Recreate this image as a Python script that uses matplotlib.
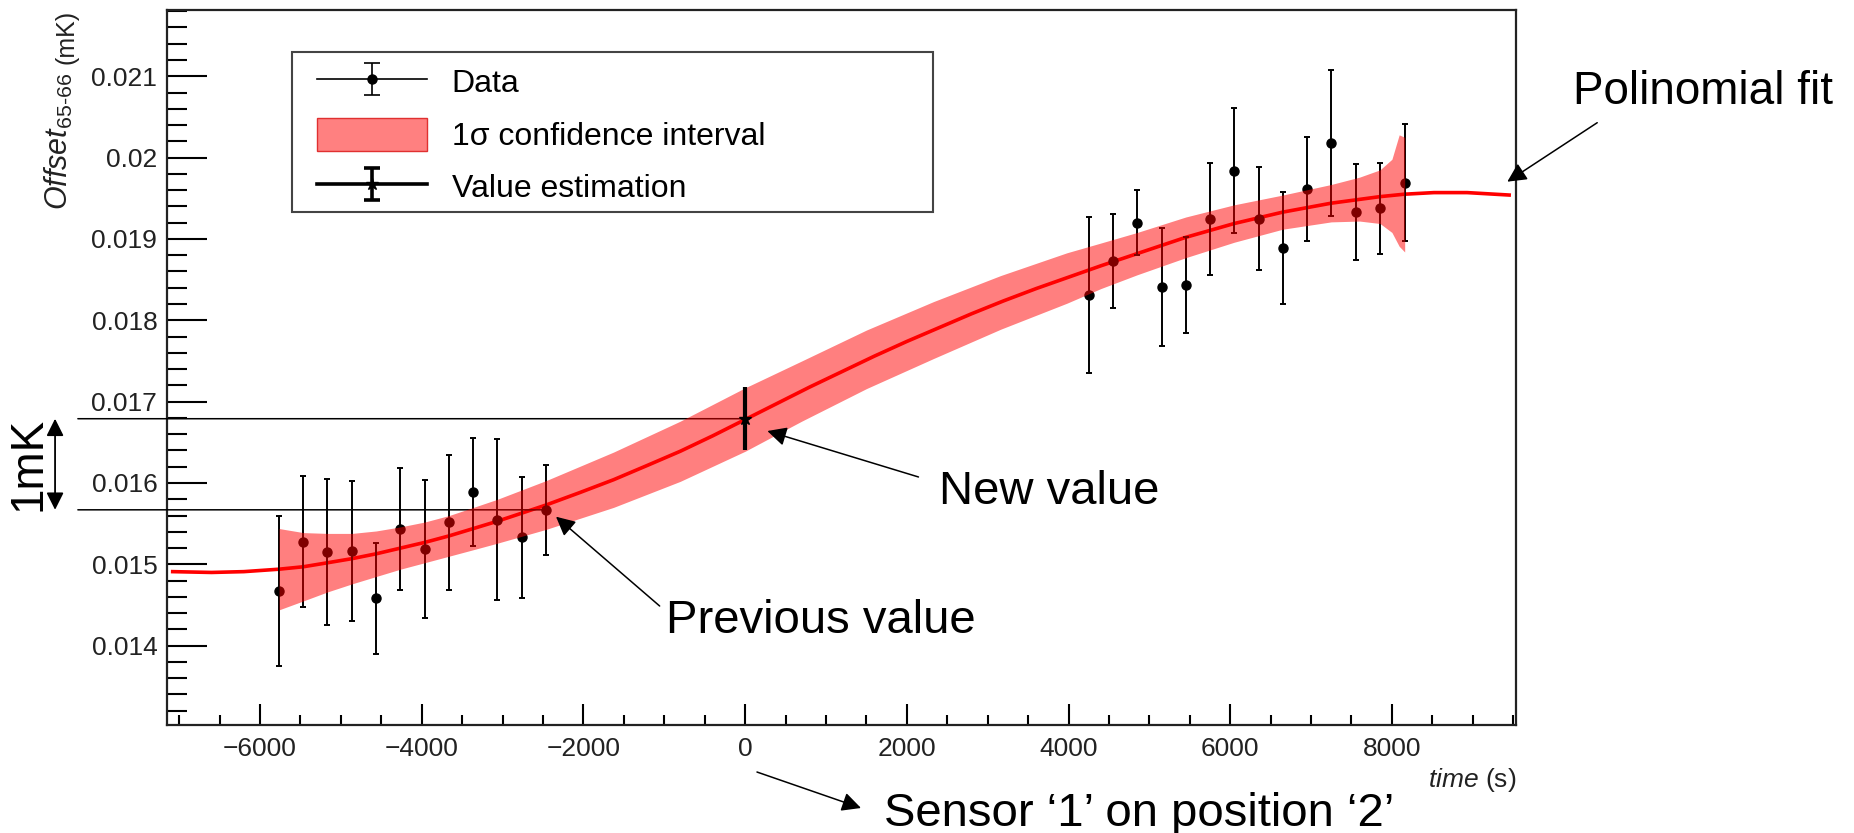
import matplotlib
matplotlib.use('Agg')
import matplotlib.pyplot as plt
import matplotlib.transforms as mtransforms
from matplotlib.patches import Patch, Rectangle, FancyArrowPatch
from matplotlib.ticker import MultipleLocator, FuncFormatter
import numpy as np

plt.rcParams['font.family'] = ['Liberation Sans', 'DejaVu Sans']
plt.rcParams['mathtext.fontset'] = 'custom'
plt.rcParams['mathtext.rm'] = 'Liberation Sans'
plt.rcParams['mathtext.it'] = 'Liberation Sans:italic'

# measured offsets (time in s, offset in mK)
t_data = [-5765, -5464, -5167, -4861, -4564, -4264, -3962, -3661, -3360, -3063, -2761, -2460,
          4251, 4550, 4850, 5151, 5449, 5749, 6051, 6355, 6652, 6954, 7251, 7552, 7853, 8158]
off_data = [0.01467, 0.01528, 0.01515, 0.01516, 0.01458, 0.01544, 0.01519, 0.01552, 0.01589, 0.01555, 0.01533, 0.01567,
            0.01831, 0.01873, 0.01920, 0.01841, 0.01843, 0.01925, 0.01984, 0.01925, 0.01889, 0.01961, 0.02018, 0.01933,
            0.01938, 0.01969]
off_err = [0.00092, 0.00080, 0.00090, 0.00086, 0.00068, 0.00075, 0.00085, 0.00083, 0.00066, 0.00099, 0.00074, 0.00055,
           0.00096, 0.00058, 0.00040, 0.00072, 0.00059, 0.00069, 0.00077, 0.00063, 0.00069, 0.00064, 0.00090, 0.00059,
           0.00056, 0.00072]

# polynomial fit, sampled
t_fit = [-7080, -6600, -6200, -5765, -5464, -5160, -4860, -4560, -4260, -3960, -3660, -3360, -3063, -2760, -2460,
         -2050, -1627, -1200, -802, -400, 0, 400, 800, 1200, 1600, 2000, 2400, 2800, 3200, 3600, 4000, 4400, 4850,
         5450, 6050, 6650, 7250, 7850, 8150, 8520, 8930, 9450]
off_fit = [0.01491, 0.01490, 0.01491, 0.01494, 0.01497, 0.01502, 0.01507, 0.01513, 0.01520, 0.01527, 0.01535,
           0.01544, 0.01553, 0.01563, 0.01573, 0.01588, 0.01604, 0.01622, 0.01639, 0.01658, 0.01678, 0.01698,
           0.01718, 0.01737, 0.01756, 0.01774, 0.01791, 0.01808, 0.01824, 0.01839, 0.01853, 0.01867, 0.01882,
           0.01902, 0.01919, 0.01933, 0.01944, 0.01952, 0.01955, 0.01957, 0.01957, 0.01954]

# 1 sigma confidence band of the fit
t_band = [-5765, -5464, -5167, -4861, -4564, -4264, -3962, -3661, -3360, -3063, -2460, -1627, -802, 0, 700, 1500,
          2330, 3160, 3980, 4400, 4850, 5450, 6050, 6650, 7250, 7600, 7853, 8000, 8090, 8158]
band_lo = [0.01444, 0.01455, 0.01466, 0.01476, 0.01485, 0.01494, 0.01502, 0.01510, 0.01518, 0.01526, 0.01543,
           0.01570, 0.01602, 0.01639, 0.01676, 0.01716, 0.01753, 0.01789, 0.01821, 0.01839, 0.01856, 0.01877,
           0.01896, 0.01912, 0.01921, 0.01922, 0.01919, 0.01908, 0.01891, 0.01884]
band_hi = [0.01544, 0.01539, 0.01538, 0.01538, 0.01541, 0.01546, 0.01552, 0.01560, 0.01570, 0.01580, 0.01603,
           0.01638, 0.01676, 0.01717, 0.01750, 0.01788, 0.01823, 0.01855, 0.01883, 0.01895, 0.01908, 0.01927,
           0.01942, 0.01954, 0.01967, 0.01976, 0.01985, 0.01998, 0.02028, 0.02025]

# estimated value at t = 0
t_est = 0
off_est = 0.01679
err_est = 0.00039
prev_idx = 11

fig = plt.figure(figsize=(18.54, 8.33), dpi=100)
ax = fig.add_axes([0.0901, 0.1297, 0.7276, 0.8583])

ax.plot(t_fit, off_fit, color='red', lw=2.6, zorder=2)
ax.errorbar(t_data, off_data, yerr=off_err, fmt='o', color='black', ms=6.5, elinewidth=1.4,
            capsize=2.5, capthick=1.4, zorder=3)
ax.fill_between(t_band, band_lo, band_hi, color='red', alpha=0.5, lw=0, zorder=4)
ax.errorbar([t_est], [off_est], yerr=[err_est], fmt='*', color='black', ms=9, elinewidth=3,
            capsize=0, zorder=5)

# legend: frame drawn as its own box, entries placed inside it
ax.add_patch(Rectangle((0.0927, 0.7175), 0.4752, 0.2238, transform=ax.transAxes, facecolor='white',
                       edgecolor='#444444', lw=1.5, zorder=6))
h_data = ax.errorbar([np.nan], [np.nan], yerr=[1.0], fmt='o-', color='black', ms=6.5, lw=1.2,
                     elinewidth=1.2, capsize=6, capthick=1.2)
h_band = Patch(facecolor='#ff8080', edgecolor='#e03030', lw=1)
h_est = ax.errorbar([np.nan], [np.nan], yerr=[1.0], fmt='*-', color='black', ms=9, lw=2.6,
                    elinewidth=2.6, capsize=6, capthick=2.6)
leg = ax.legend([h_data, h_band, h_est], ['Data', '1σ confidence interval', 'Value estimation'],
                loc='upper left', bbox_to_anchor=(0.1112, 0.9230), frameon=False,
                fontsize=23, handlelength=3.44, handleheight=1.22, handletextpad=0.78,
                labelspacing=0.57, borderpad=0, borderaxespad=0)
leg.set_zorder(7)

ax.set_xlim(-7150, 9535)
ax.set_ylim(0.013025, 0.021815)
ax.xaxis.set_major_locator(MultipleLocator(2000))
ax.xaxis.set_minor_locator(MultipleLocator(500))
ax.yaxis.set_major_locator(MultipleLocator(0.001))
ax.yaxis.set_minor_locator(MultipleLocator(0.0002))
ax.xaxis.set_major_formatter(FuncFormatter(lambda v, p: f'{v:.0f}'.replace('-', '\u2212')))
ax.yaxis.set_major_formatter(FuncFormatter(lambda v, p: f'{v:g}'))
ax.tick_params(axis='x', which='major', direction='in', length=15, width=1.5, labelsize=19, pad=9,
               labelcolor='#222222')
ax.tick_params(axis='x', which='minor', direction='in', length=7.5, width=1.5)
ax.tick_params(axis='y', which='major', direction='in', length=29, width=1.5, labelsize=19, pad=7,
               labelcolor='#222222')
ax.tick_params(axis='y', which='minor', direction='in', length=14.5, width=1.5)
for s in ax.spines.values():
    s.set_linewidth(1.6)
    s.set_color('#222222')

ax.set_xlabel(r'$time$ (s)', fontsize=19, color='#222222', ha='right', va='top')
ax.xaxis.set_label_coords(1.0, -0.058)

# y axis title
fig.text(0.0356, 0.988, '(mK)', rotation=90, fontsize=18, ha='center', va='top', color='#222222')
fig.text(0.0232, 0.912, r'$Offset_{65‐66}$', rotation=90, fontsize=22, ha='left', va='top', color='#222222')

# reference lines for the two values and the 1mK span
blend = mtransforms.blended_transform_factory(fig.transFigure, ax.transData)
line_kw = dict(arrowstyle='-', lw=1.1, color='black', shrinkA=0, shrinkB=0)
ax.annotate('', xy=(t_est, off_est), xytext=(0.042, off_est), textcoords=('figure fraction', 'data'),
            arrowprops=line_kw, annotation_clip=False)
ax.annotate('', xy=(t_data[prev_idx], off_data[prev_idx]), xytext=(0.042, off_data[prev_idx]),
            textcoords=('figure fraction', 'data'), arrowprops=line_kw, annotation_clip=False)
ax.annotate('', xy=(0.0297, off_est), xycoords=('figure fraction', 'data'),
            xytext=(0.0297, off_data[prev_idx]), textcoords=('figure fraction', 'data'),
            arrowprops=dict(arrowstyle='<|-|>', lw=1.3, color='black', shrinkA=0, shrinkB=0, mutation_scale=26),
            annotation_clip=False)
ax.text(0.0156, (off_est + off_data[prev_idx]) / 2, '1mK', transform=blend, rotation=90,
        fontsize=33, ha='center', va='center')

# callouts
arrow_kw = dict(arrowstyle='-|>', lw=1.1, color='black', shrinkA=0, shrinkB=0, mutation_scale=29)
fig.text(0.5065, 0.395, 'New value', fontsize=34, ha='left', va='baseline')
fig.text(0.3592, 0.2397, 'Previous value', fontsize=34, ha='left', va='baseline')
fig.text(0.8483, 0.8751, 'Polinomial fit', fontsize=33, ha='left', va='baseline')
fig.text(0.4768, 0.0084, 'Sensor \u20181\u2019 on position \u20182\u2019', fontsize=34, ha='left', va='baseline')
callouts = [((0.4954, 0.4274), (0.4139, 0.4826)),
            ((0.3558, 0.2725), (0.2999, 0.3797)),
            ((0.8615, 0.8527), (0.8130, 0.7819)),
            ((0.4083, 0.0732), (0.4644, 0.0300))]
for tail, tip in callouts:
    fig.add_artist(FancyArrowPatch(tail, tip, transform=fig.transFigure, **arrow_kw))

plt.savefig('out.png', dpi=100)
